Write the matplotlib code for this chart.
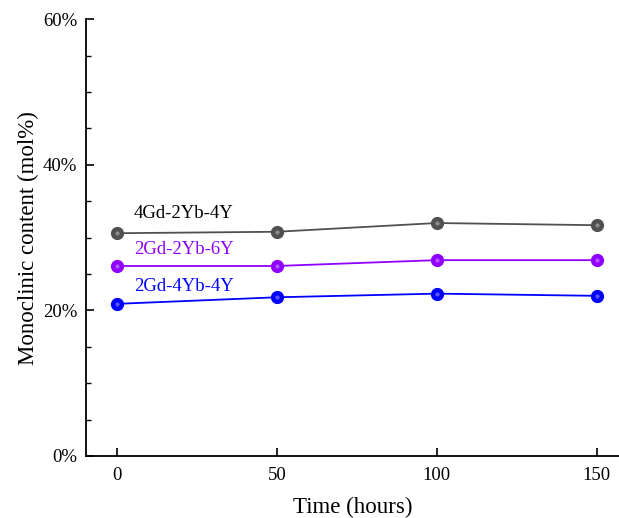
import matplotlib
matplotlib.use("Agg")
import matplotlib.pyplot as plt
from matplotlib.ticker import MultipleLocator, FuncFormatter

plt.rcParams['font.family'] = ['Liberation Serif', 'DejaVu Serif']

# Data
hours = [0, 50, 100, 150]
names = ['4Gd-2Yb-4Y', '2Gd-2Yb-6Y', '2Gd-4Yb-4Y']
values = [
    [30.6, 30.8, 32.0, 31.7],
    [26.1, 26.1, 26.9, 26.9],
    [20.9, 21.8, 22.3, 22.0],
]
colors = ['#505050', '#8f00ff', '#0000ff']
text_colors = ['black', '#8f00ff', '#0000ff']
label_y = [33.3, 28.4, 23.3]

fig = plt.figure(figsize=(6.19, 5.18), dpi=100)
ax = fig.add_axes([0.139, 0.1197, 0.861, 0.8433])

for name, vals, c, tc, ly in zip(names, values, colors, text_colors, label_y):
    ax.plot(hours, vals, color=c, lw=1.3, marker='o', ms=8.5,
            mfc=c, mec=c, zorder=3)
    # faint highlight to mimic the shaded sphere markers
    ax.plot(hours, vals, ls='none', marker='o', ms=3, mfc='white',
            mec='none', alpha=0.35, zorder=4)
    ax.text(5.2, ly, name, color=tc, fontsize=13.5, ha='left', va='center')

ax.set_xlim(-9.7, 157)
ax.set_ylim(0, 60)
ax.set_xticks(hours)
ax.yaxis.set_major_locator(MultipleLocator(20))
ax.yaxis.set_minor_locator(MultipleLocator(5))
ax.yaxis.set_major_formatter(FuncFormatter(lambda v, p: f'{v:.0f}%'))

ax.spines['top'].set_visible(False)
ax.spines['right'].set_visible(False)
for s in ['left', 'bottom']:
    ax.spines[s].set_linewidth(1.3)

ax.tick_params(which='major', direction='in', length=6, width=1.2,
               labelsize=13.5)
ax.tick_params(axis='x', which='major', pad=8)
ax.tick_params(axis='y', which='major', pad=6.5)
ax.tick_params(which='minor', direction='in', length=3.5, width=1.0)
ax.tick_params(axis='x', which='minor', bottom=False)

ax.set_xlabel('Time (hours)', fontsize=16.5, labelpad=9)
ax.set_ylabel('Monoclinic content (mol%)', fontsize=16.5, labelpad=2.5)

fig.savefig('out.png', dpi=100)
